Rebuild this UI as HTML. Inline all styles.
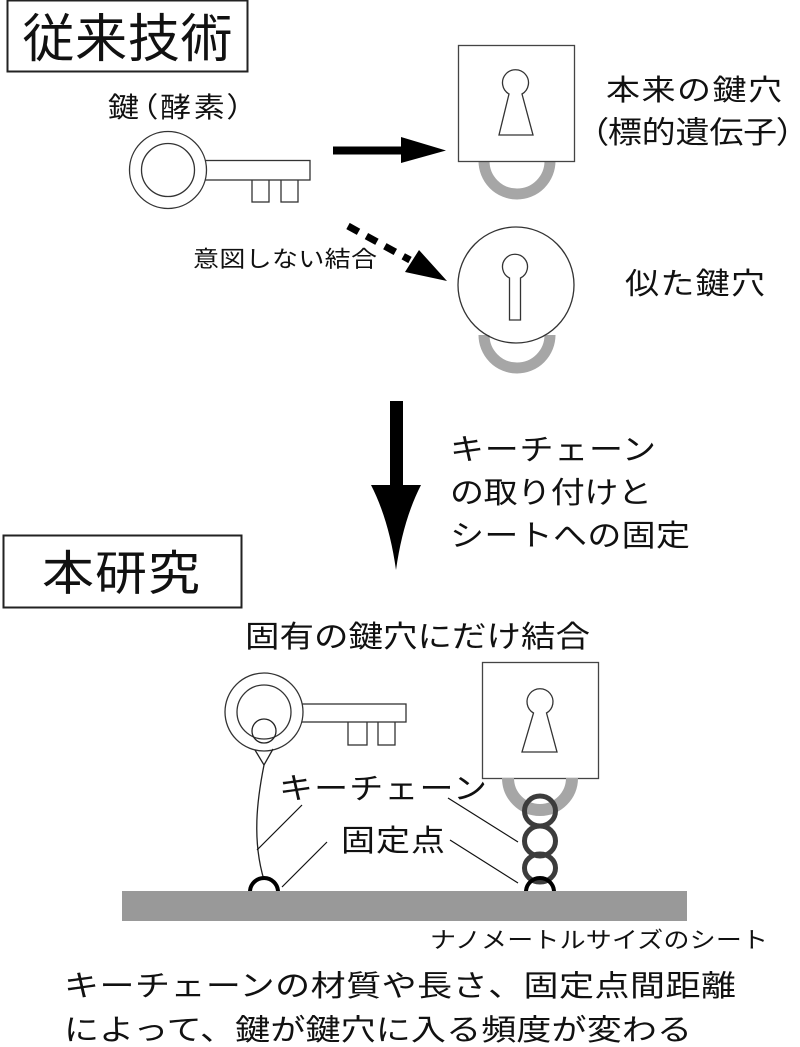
<!DOCTYPE html>
<html><head><meta charset="utf-8"><style>
html,body{margin:0;padding:0;background:#fff;}
svg{display:block;}
text{font-family:"Liberation Sans","Noto Sans CJK JP",sans-serif;fill:#111;}
.p{font-feature-settings:"palt" 1;}
</style></head><body>
<svg width="800" height="1047" viewBox="0 0 800 1047" xmlns="http://www.w3.org/2000/svg">
<rect x="0" y="0" width="800" height="1047" fill="#fff"/>

<!-- Title box 1 -->
<rect x="7.5" y="0.5" width="240" height="71" fill="#fff" stroke="#222" stroke-width="2"/>
<text transform="translate(22.5,57)" font-size="52" textLength="210" lengthAdjust="spacing">従来技術</text>

<!-- key label -->
<text class="p" transform="translate(108,117) scale(1,0.9)" font-size="31" textLength="135" lengthAdjust="spacing">鍵（酵素）</text>

<!-- top key -->
<g stroke="#333" stroke-width="1.3" fill="#fff">
  <rect x="252" y="178" width="17" height="24"/>
  <rect x="281" y="178" width="17" height="24"/>
  <rect x="198" y="160.5" width="112" height="19.5"/>
  <circle cx="168" cy="170" r="38.5"/>
  <circle cx="168" cy="170" r="26.5"/>
</g>

<!-- solid arrow -->
<rect x="333" y="146.5" width="72" height="8" fill="#000"/>
<polygon points="401,137 446,150.5 401,163" fill="#000"/>

<!-- dashed arrow -->
<line x1="348" y1="226" x2="410" y2="260" stroke="#000" stroke-width="7" stroke-dasharray="12,9"/>
<polygon points="447,281 419,250 405,272" fill="#000"/>
<text transform="translate(193,267) scale(1,0.88)" font-size="26" textLength="184" lengthAdjust="spacing">意図しない結合</text>

<!-- square lock top -->
<path d="M484,161 A33,33 0 0 0 550,161" fill="none" stroke="#a6a6a6" stroke-width="11"/>
<rect x="458.5" y="45.5" width="116" height="116" fill="#fff" stroke="#444" stroke-width="1.3"/>
<path d="M509,94 A13,13 0 1 1 522,94 L533,135 L499,135 Z" fill="#fff" stroke="#333" stroke-width="1.3"/>
<text transform="translate(606,100) scale(1,0.85)" font-size="34" textLength="176" lengthAdjust="spacing">本来の鍵穴</text>
<text class="p" transform="translate(591,143) scale(1,0.9)" font-size="34" textLength="203" lengthAdjust="spacing">（標的遺伝子）</text>

<!-- round lock -->
<circle cx="516" cy="285" r="58" fill="#fff" stroke="none"/>
<path d="M484,335 A33,33 0 0 0 550,335" fill="none" stroke="#a6a6a6" stroke-width="11"/>
<circle cx="516" cy="285" r="58" fill="none" stroke="#333" stroke-width="1.3"/>
<path d="M509.5,278 A12.5,12.5 0 1 1 520.5,278 L520.5,320 L509.5,320 Z" fill="#fff" stroke="#333" stroke-width="1.3"/>
<text transform="translate(625,294) scale(1,0.88)" font-size="34" textLength="140" lengthAdjust="spacing">似た鍵穴</text>

<!-- down arrow -->
<rect x="390" y="401" width="13" height="88" fill="#000"/>
<path d="M371,485 L421,485 Q403,520 396,570 Q389,520 371,485 Z" fill="#000"/>
<text transform="translate(450,460) scale(1,0.88)" font-size="34" textLength="206" lengthAdjust="spacing">キーチェーン</text>
<text transform="translate(450,503) scale(1,0.88)" font-size="34" textLength="202" lengthAdjust="spacing">の取り付けと</text>
<text transform="translate(450,546) scale(1,0.88)" font-size="34" textLength="240" lengthAdjust="spacing">シートへの固定</text>

<!-- Title box 2 -->
<rect x="3.5" y="535.5" width="238" height="72" fill="#fff" stroke="#222" stroke-width="2"/>
<text transform="translate(42,590) scale(1,0.92)" font-size="52" textLength="158" lengthAdjust="spacing">本研究</text>

<text transform="translate(245,647) scale(1,0.88)" font-size="34.5" textLength="345" lengthAdjust="spacing">固有の鍵穴にだけ結合</text>

<!-- bottom key -->
<g stroke="#333" stroke-width="1.3" fill="#fff">
  <rect x="348" y="720" width="19" height="25"/>
  <rect x="378" y="720" width="17" height="25"/>
  <rect x="296" y="704" width="110" height="18"/>
  <circle cx="264" cy="712" r="39"/>
  <circle cx="264" cy="712" r="27"/>
</g>
<g fill="none" stroke="#222" stroke-width="1.3">
  <circle cx="264" cy="731" r="12"/>
  <path d="M255,750 L264,765 L273,749"/>
  <path d="M264,765 C257,800 252,840 264,880"/>
</g>

<!-- right lock -->
<rect x="482.5" y="662.5" width="116" height="116" fill="#fff" stroke="#444" stroke-width="1.3"/>
<path d="M533.5,713 A13,13 0 1 1 546.5,713 L557,752 L522,752 Z" fill="#fff" stroke="#333" stroke-width="1.3"/>
<path d="M508,778 A32,32 0 0 0 572,778" fill="none" stroke="#a6a6a6" stroke-width="12"/>
<g fill="none" stroke="#3c3c3c" stroke-width="5">
  <ellipse cx="540" cy="811" rx="15.5" ry="15"/>
  <ellipse cx="540" cy="841" rx="15.5" ry="15"/>
  <ellipse cx="540" cy="868" rx="15.5" ry="14"/>
</g>
<path d="M515,810 A32,32 0 0 0 565,810" fill="none" stroke="#a6a6a6" stroke-width="6" opacity="0"/>

<!-- fixation points -->
<path d="M250,892 A14,14 0 0 1 278,892" fill="none" stroke="#000" stroke-width="4"/>
<path d="M526,892 A14,14 0 0 1 554,892" fill="none" stroke="#000" stroke-width="4"/>

<!-- sheet -->
<rect x="122" y="891" width="565" height="30" fill="#999"/>

<!-- leader lines -->
<g stroke="#111" stroke-width="1.2">
  <line x1="302" y1="805" x2="257" y2="850"/>
  <line x1="327" y1="842" x2="282" y2="887"/>
  <line x1="448" y1="798" x2="518" y2="842"/>
  <line x1="450" y1="840" x2="518" y2="883"/>
</g>

<text transform="translate(279,799) scale(1,0.88)" font-size="34" textLength="208" lengthAdjust="spacing">キーチェーン</text>
<text transform="translate(341,851) scale(1,0.88)" font-size="34" textLength="104" lengthAdjust="spacing">固定点</text>
<text transform="translate(430,948) scale(1,0.88)" font-size="26" textLength="338" lengthAdjust="spacing">ナノメートルサイズのシート</text>

<text transform="translate(64,996) scale(1,0.85)" font-size="35" textLength="672" lengthAdjust="spacing">キーチェーンの材質や長さ、固定点間距離</text>
<text transform="translate(64,1040) scale(1,0.85)" font-size="35" textLength="628" lengthAdjust="spacing">によって、鍵が鍵穴に入る頻度が変わる</text>
</svg>
</body></html>
